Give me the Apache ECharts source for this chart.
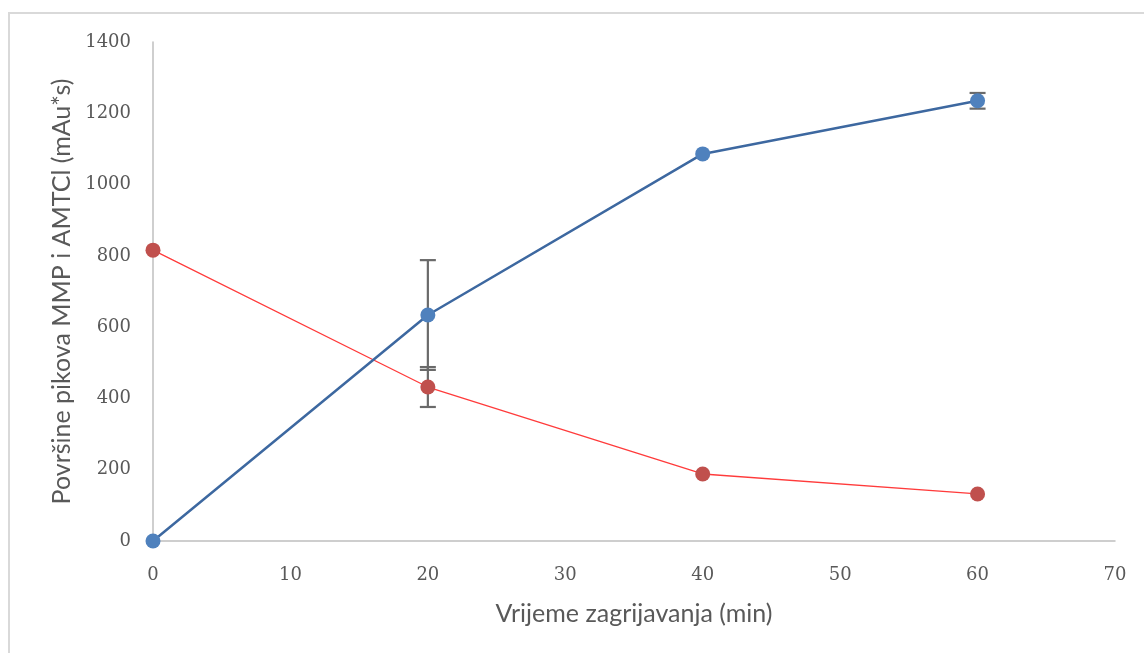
<!DOCTYPE html>
<html><head><meta charset="utf-8">
<script src="https://cdn.jsdelivr.net/npm/echarts@6/dist/echarts.min.js"></script>
<style>html,body{margin:0;padding:0;background:#fff}#c{width:1144px;height:653px}</style>
</head><body><div id="c"></div>
<script>
const times = [0, 20, 40, 60];
const mmp = [0, 634, 1086, 1235];
const mmpErr = [0, 154, 0, 22];
const amtcl = [816, 432, 188, 132];
const amtclErr = [0, 56, 0, 0];
const xTitle = 'Vrijeme zagrijavanja (min)';
const yTitle = 'Površine pikova MMP i AMTCl (mAu*s)';

function errData(vals, errs) {
  return times.map((t, i) => [t, vals[i] - errs[i], vals[i] + errs[i], errs[i]]).filter(d => d[3] > 0);
}
function errSeries(vals, errs) {
  return {
    type: 'custom', z: 1, silent: true,
    renderItem: function (params, api) {
      const x = api.value(0);
      const lo = api.coord([x, api.value(1)]);
      const hi = api.coord([x, api.value(2)]);
      const w = 8;
      const st = { stroke: '#6a6a6a', lineWidth: 2.2, fill: null };
      return { type: 'group', children: [
        { type: 'line', shape: { x1: lo[0], y1: lo[1], x2: hi[0], y2: hi[1] }, style: st },
        { type: 'line', shape: { x1: lo[0] - w, y1: lo[1], x2: lo[0] + w, y2: lo[1] }, style: st },
        { type: 'line', shape: { x1: hi[0] - w, y1: hi[1], x2: hi[0] + w, y2: hi[1] }, style: st }
      ]};
    },
    data: errData(vals, errs)
  };
}
const chart = echarts.init(document.getElementById('c'));
chart.setOption({
  animation: false,
  backgroundColor: '#fff',
  graphic: [{ type: 'rect', shape: { x: 9, y: 13, width: 1160, height: 700 }, style: { fill: null, stroke: '#d9d9d9', lineWidth: 2 }, z: -1 }],
  grid: { left: 153, right: 29, top: 42, bottom: 112 },
  xAxis: {
    type: 'value', min: 0, max: 70, interval: 10,
    name: xTitle, nameLocation: 'middle', nameGap: 60,
    nameTextStyle: { fontFamily: 'Lato', fontSize: 25, color: '#595959' },
    axisLine: { show: true, lineStyle: { color: '#bfbfbf', width: 1.5 } },
    axisTick: { show: false },
    splitLine: { show: false },
    axisLabel: { fontFamily: 'DejaVu Serif', fontSize: 18, color: '#595959', margin: 25 }
  },
  yAxis: {
    type: 'value', min: 0, max: 1400, interval: 200,
    name: yTitle, nameLocation: 'middle', nameGap: 76, nameRotate: 90,
    nameTextStyle: { fontFamily: 'Lato', fontSize: 25, color: '#595959' },
    axisLine: { show: true, lineStyle: { color: '#bfbfbf', width: 1.5 } },
    axisTick: { show: false },
    splitLine: { show: false },
    axisLabel: { fontFamily: 'DejaVu Serif', fontSize: 18, color: '#595959', margin: 22, formatter: v => String(v) }
  },
  series: [
    errSeries(mmp, mmpErr),
    errSeries(amtcl, amtclErr),
    { type: 'line', name: 'MMP', data: times.map((t, i) => [t, mmp[i]]), z: 3,
      symbol: 'circle', symbolSize: 15,
      itemStyle: { color: '#4f81bd' },
      lineStyle: { color: '#3d68a0', width: 2.5 } },
    { type: 'line', name: 'AMTCl', data: times.map((t, i) => [t, amtcl[i]]), z: 2,
      symbol: 'circle', symbolSize: 15,
      itemStyle: { color: '#c0504d' },
      lineStyle: { color: '#ff3b3b', width: 1.3 } }
  ]
});
</script></body></html>
